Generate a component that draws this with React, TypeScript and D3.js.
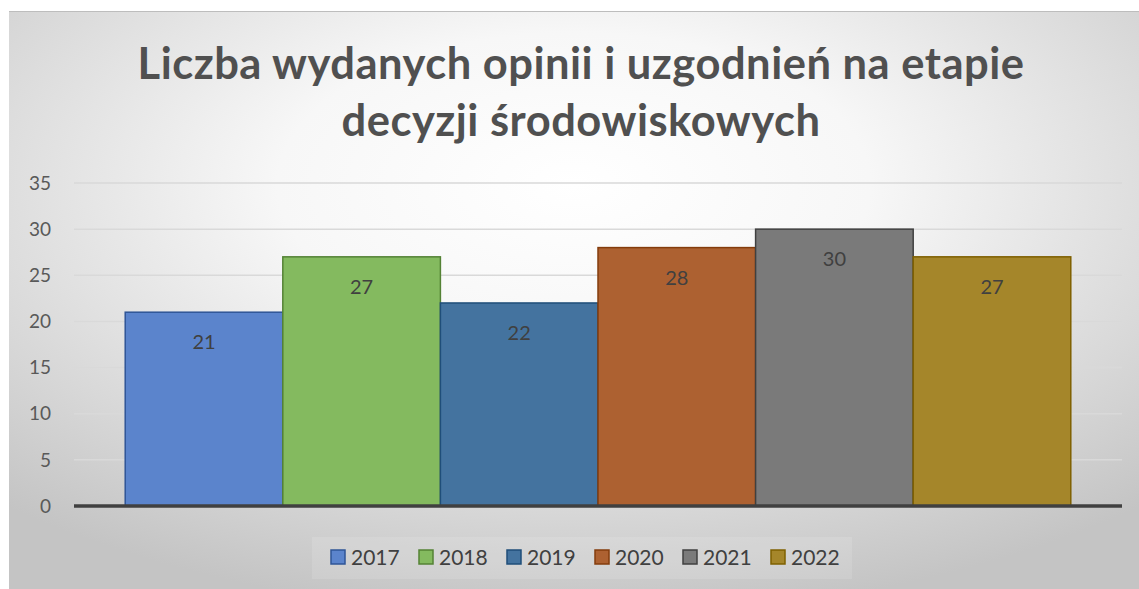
import React from "react";
import * as d3 from "d3";

const years = ["2017", "2018", "2019", "2020", "2021", "2022"];
const values = [21, 27, 22, 28, 30, 27];
const yTicks = [0, 5, 10, 15, 20, 25, 30, 35];
const fills = ["#5b84cc", "#84ba5f", "#44739f", "#ad6131", "#7a7a7a", "#a5862a"];
const strokes = ["#2f5597", "#548235", "#1f4e79", "#843c0c", "#404040", "#7f6000"];
const titleLines = ["Liczba wydanych opinii i uzgodnień na etapie", "decyzji środowiskowych"];

export default function App() {
  const W = 1139, H = 589;
  const x = d3.scaleBand<string>().domain(years).range([74, 1122]).paddingInner(0).paddingOuter(0.325);
  const y = d3.scaleLinear().domain([0, 35]).range([506, 183]);
  const font = "Lato, 'Open Sans', sans-serif";
  const legendX0 = 331, legendStep = 88;
  return (
    <svg width={W} height={H} style={{ position: "absolute", left: 0, top: 0 }}>
      <defs>
        <radialGradient id="bg" cx="0.5" cy="0.3" r="0.75" gradientUnits="objectBoundingBox">
          <stop offset="0" stopColor="#ffffff" />
          <stop offset="0.35" stopColor="#f7f7f7" />
          <stop offset="1" stopColor="#c4c4c4" />
        </radialGradient>
      </defs>
      <rect x={0} y={0} width={W} height={H} fill="#ffffff" />
      <rect x={9} y={11} width={W - 9} height={H - 11} fill="url(#bg)" />
      <line x1={9} x2={W} y1={11.5} y2={11.5} stroke="#bdbdbd" strokeWidth={1} />
      {titleLines.map((t, i) => (
        <text key={i} x={581} y={79 + i * 57} textAnchor="middle" fontFamily={font} fontWeight={700} fontSize={43.5} letterSpacing={0.5} fill="#505050">
          {t}
        </text>
      ))}
      {yTicks.map((v) => (
        <g key={v}>
          {v > 0 && <line x1={74} x2={1122} y1={y(v)} y2={y(v)} stroke="#d9d9d9" strokeWidth={1.5} />}
          <text x={51} y={y(v)} dy="0.35em" textAnchor="end" fontFamily={font} fontSize={19} fill="#595959">
            {v}
          </text>
        </g>
      ))}
      {years.map((yr, i) => {
        const x0 = x(yr)!;
        return (
          <g key={yr}>
            <rect x={x0} y={y(values[i])} width={x.bandwidth()} height={y(0) - y(values[i])} fill={fills[i]} stroke={strokes[i]} strokeWidth={1.5} />
            <text x={x0 + x.bandwidth() / 2} y={y(values[i]) + 30} dy="0.35em" textAnchor="middle" fontFamily={font} fontSize={20} fill="#404040">
              {values[i]}
            </text>
          </g>
        );
      })}
      <line x1={74} x2={1122} y1={y(0)} y2={y(0)} stroke="#404040" strokeWidth={3.5} />
      <rect x={312} y={537} width={540} height={42} fill="#ffffff" opacity={0.12} />
      {years.map((yr, i) => (
        <g key={yr} transform={`translate(${legendX0 + i * legendStep},557)`}>
          <rect x={0} y={-7} width={14} height={14} fill={fills[i]} stroke={strokes[i]} strokeWidth={1.5} />
          <text x={20} y={0} dy="0.36em" fontFamily={font} fontSize={21} fill="#404040">
            {yr}
          </text>
        </g>
      ))}
    </svg>
  );
}
